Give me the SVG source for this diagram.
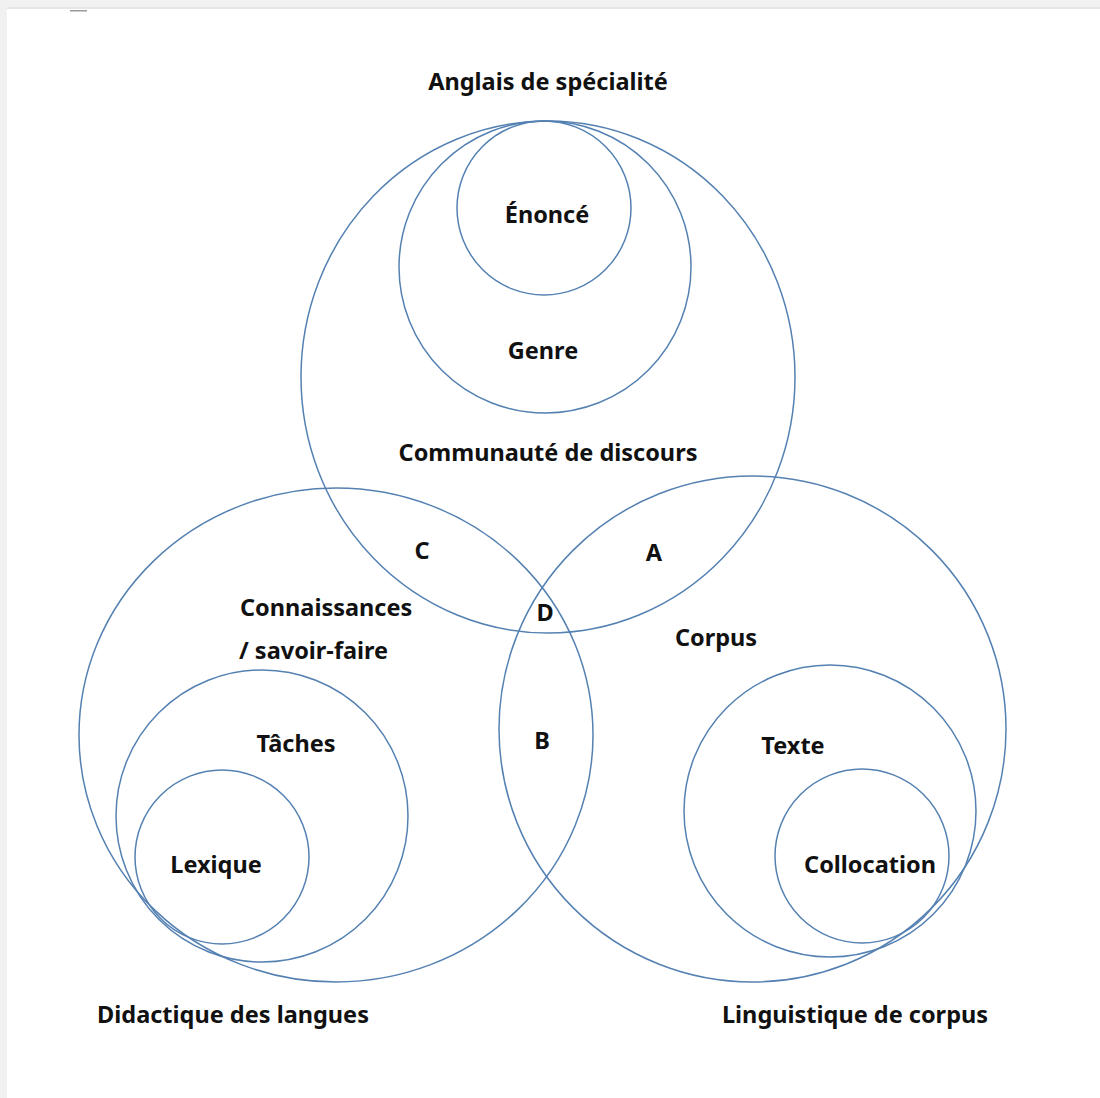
<svg xmlns="http://www.w3.org/2000/svg" width="1100" height="1098" viewBox="0 0 1100 1098">
<style>
.c{fill:none;stroke:#5481b2;stroke-width:1.5}
.t{font-family:"Noto Sans","Open Sans","DejaVu Sans",sans-serif;font-weight:700;font-size:23.5px;fill:#111;text-anchor:middle}
.s{text-anchor:start}
</style>
<rect width="1100" height="1098" fill="#ffffff"/>
<rect x="0" y="0" width="1100" height="8" fill="#f1f1f1"/>
<rect x="0" y="7" width="1100" height="2" fill="#e6e6e6"/>
<rect x="0" y="0" width="7" height="1098" fill="#f1f1f1"/>
<rect x="70" y="10" width="17" height="1.5" fill="#9a9a9a"/>
<text class="t" x="548" y="90">Anglais de spécialité</text>
<g id="communaute">
<ellipse class="c" cx="548" cy="377" rx="247" ry="256"/>
<text class="t" x="548" y="461">Communauté de discours</text>
</g>
<g id="genre">
<circle class="c" cx="545" cy="267" r="146"/>
<text class="t" x="543" y="359">Genre</text>
</g>
<g id="enonce">
<circle class="c" cx="544" cy="208" r="87"/>
<text class="t" x="547" y="223">Énoncé</text>
</g>
<g id="didactique">
<ellipse class="c" cx="336" cy="735" rx="257" ry="247"/>
<text class="t s" x="240" y="616">Connaissances</text>
<text class="t s" x="239" y="659">/ savoir-faire</text>
<text class="t" x="233" y="1023">Didactique des langues</text>
</g>
<g id="taches">
<circle class="c" cx="262" cy="816" r="146"/>
<text class="t" x="296" y="752">Tâches</text>
</g>
<g id="lexique">
<circle class="c" cx="222" cy="857" r="87"/>
<text class="t" x="216" y="873">Lexique</text>
</g>
<g id="linguistique">
<ellipse class="c" cx="752.5" cy="729" rx="253.5" ry="253"/>
<text class="t" x="716" y="646">Corpus</text>
<text class="t" x="855" y="1023">Linguistique de corpus</text>
</g>
<g id="texte">
<circle class="c" cx="830" cy="811" r="146"/>
<text class="t" x="793" y="754">Texte</text>
</g>
<g id="collocation">
<circle class="c" cx="862" cy="856" r="87"/>
<text class="t" x="870" y="873">Collocation</text>
</g>
<g id="zones">
<text class="t" x="422" y="559">C</text>
<text class="t" x="654" y="561">A</text>
<text class="t" x="545" y="621">D</text>
<text class="t" x="542" y="749">B</text>
</g>
</svg>
